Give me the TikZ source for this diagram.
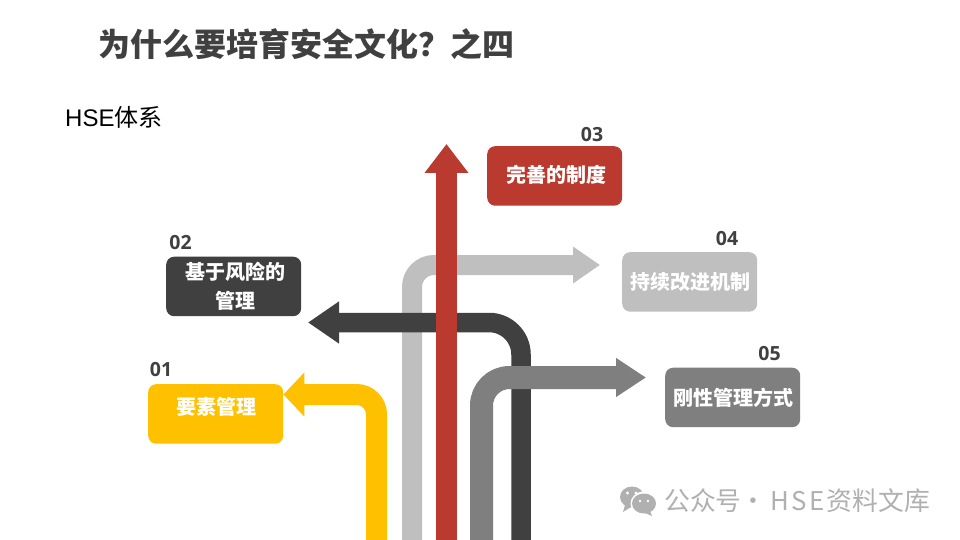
\documentclass[tikz,border=0pt]{standalone}
\usepackage{fontspec}
\setmainfont{Liberation Sans}
\newfontfamily\cjk{Noto Sans CJK SC}
\newfontfamily\num{Open Sans}
\usetikzlibrary{arrows.meta}
\definecolor{cyellow}{HTML}{FFC000}
\definecolor{cdark}{HTML}{404040}
\definecolor{cred}{HTML}{BA3A30}
\definecolor{clight}{HTML}{BFBFBF}
\definecolor{cmid}{HTML}{7F7F7F}
\definecolor{cwm}{HTML}{B0B0B0}
\tikzset{
  box/.style={rounded corners=8pt,minimum width=135pt,minimum height=59.5pt,inner sep=0pt,align=center,text=white,
     font=\cjk\bfseries\fontsize{20pt}{29pt}\selectfont,anchor=north west},
  numlab/.style={font=\num\bfseries\fontsize{19.5pt}{19.5pt}\selectfont,text=cdark,inner sep=0pt},
  band/.style={line join=miter},
}
\begin{document}
\begin{tikzpicture}[x=1pt,y=-1pt]
\useasboundingbox[fill=white] (0,0) rectangle (960,540);
% text
\node[anchor=west,inner sep=0pt,text=cdark,font=\cjk\bfseries\fontsize{32pt}{32pt}\selectfont] (title) at (98,44) {为什么要培育安全文化？之四};
\node[anchor=west,inner sep=0pt,text=black,font=\fontsize{24pt}{24pt}\selectfont] (sub) at (65,117) {HSE{\cjk 体系}};
% free ends
\coordinate (s1) at (376.5,540); \coordinate (c1) at (376.5,394.5);
\coordinate (s2) at (521,540);   \coordinate (c2) at (521,322.5);
\coordinate (s3) at (446.5,540);
\coordinate (s4) at (412,540);   \coordinate (c4) at (412,265);
\coordinate (s5) at (481.5,540); \coordinate (c5) at (481.5,377.5);
\coordinate (t2) at (308,322.5);
\coordinate (t3) at (446.5,144);
\coordinate (t4) at (600,265);
\coordinate (t5) at (646,377.5);
% boxes
\node[box,fill=cyellow] (b1) at (148,384) {\hspace*{1pt}\raisebox{17pt}{要素管理}};
\node[box,fill=cdark] (b2) at (166,256.5) {\raisebox{-1.5pt}{\hspace*{4pt}基于风险的}\\\raisebox{-1.5pt}{\hspace*{4pt}管理}};
\node[box,fill=cred] (b3) at (487,146) {\hspace*{4pt}\raisebox{4pt}{完善的制度}};
\node[box,fill=clight] (b4) at (622,252) {\hspace*{2pt}持续改进机制};
\node[box,fill=cmid] (b5) at (665,367.5) {\hspace*{2pt}刚性管理方式};
% arrows
\draw[band,rounded corners=20pt,draw=cyellow,line width=21pt,-{Triangle[length=21pt,width=43pt]}] (s1) -- (c1) -- (b1.east |- c1);
\draw[band,rounded corners=22pt,draw=clight,line width=20pt,-{Triangle[length=27pt,width=35pt]}] (s4) -- (c4) -- (t4);
\draw[band,rounded corners=32pt,draw=cdark,line width=19.5pt,-{Triangle[length=31pt,width=40pt]}] (s2) -- (c2) -- (t2);
\draw[band,rounded corners=28pt,draw=cmid,line width=23pt,-{Triangle[length=30pt,width=37pt]}] (s5) -- (c5) -- (t5);
\draw[draw=cred,line width=21pt,-{Triangle[length=29pt,width=42pt]}] (s3) -- (t3);
% numbers
\node[numlab] (n1) at (161,370) {01};
\node[numlab] (n2) at (180.5,243) {02};
\node[numlab] (n3) at (592,135) {03};
\node[numlab] (n4) at (727,239) {04};
\node[numlab] (n5) at (769.5,354) {05};
% watermark
\fill[cwm] (632,497) ellipse (12pt and 10.5pt);
\fill[cwm] (625,505) -- (623,512) -- (631,507) -- cycle;
\fill[white] (644,503.5) ellipse (13.5pt and 12pt);
\fill[cwm] (644,503.5) ellipse (12pt and 10pt);
\fill[cwm] (650,511) -- (652,516) -- (645,513) -- cycle;
\fill[white] (627.5,493) circle (1.7pt) (636,493) circle (1.7pt) (640,501) circle (1.4pt) (648,501) circle (1.4pt);
\node[anchor=west,inner sep=0pt,text=cwm,font=\cjk\fontsize{25.8pt}{26pt}\selectfont] (wm) at (664,501) {公众号\hspace*{-1.5pt}·\hspace*{5pt}H\hspace*{2pt}S\hspace*{2pt}E\hspace*{2.5pt}资料文库};
\end{tikzpicture}
\end{document}
